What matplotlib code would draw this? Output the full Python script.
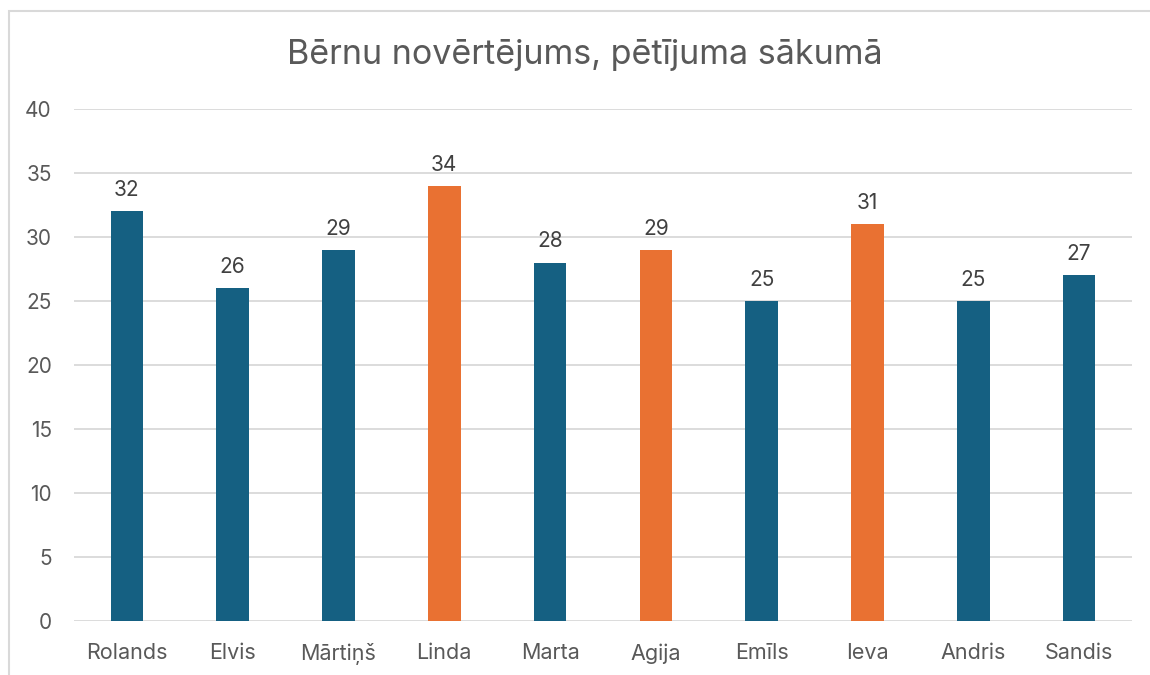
import matplotlib.pyplot as plt
from matplotlib.patches import Rectangle

# Data
names = ['Rolands', 'Elvis', 'Mārtiņš', 'Linda', 'Marta', 'Agija', 'Emīls', 'Ieva', 'Andris', 'Sandis']
scores = [32, 26, 29, 34, 28, 29, 25, 31, 25, 27]
girls = ['Linda', 'Agija', 'Ieva']

blue = '#156082'
orange = '#E97132'
text_col = '#595959'
grid_col = '#D9D9D9'

plt.rcParams['font.family'] = ['Inter', 'DejaVu Sans']

fig = plt.figure(figsize=(11.5, 6.75), dpi=100)
ax = fig.add_axes([74/1150, 1 - 621/675, (1132 - 74)/1150, (621 - 109)/675])

colors = [orange if n in girls else blue for n in names]
x = range(len(names))
bars = ax.bar(x, scores, width=0.31, color=colors, zorder=3)

for b, v in zip(bars, scores):
    ax.annotate(str(v), (b.get_x() + b.get_width()/2, v), xytext=(0, 8),
                textcoords='offset points', ha='center', va='bottom',
                fontsize=15, color='#404040')

ax.set_xlim(-0.5, len(names) - 0.5)
ax.set_ylim(0, 40)
ax.set_yticks(range(0, 41, 5))
ax.set_xticks(list(x))
ax.set_xticklabels(names, fontsize=15.5)
ax.yaxis.grid(True, color=grid_col, linewidth=1.3, zorder=0)
ax.tick_params(axis='both', length=0, colors=text_col)
ax.tick_params(axis='y', labelsize=15, pad=16)
ax.tick_params(axis='x', pad=16)
for s in ax.spines.values():
    s.set_visible(False)

fig.text(585/1150, 1 - 55/675, 'Bērnu novērtējums, pētījuma sākumā',
         ha='center', va='center', fontsize=24.5, color=text_col)

# chart frame
fig.patches.append(Rectangle((9/1150, -0.05), 1.1, 1 - 11/675 + 0.05,
                             transform=fig.transFigure, fill=False,
                             edgecolor=grid_col, linewidth=1.5))

fig.savefig('out.png', dpi=100)
